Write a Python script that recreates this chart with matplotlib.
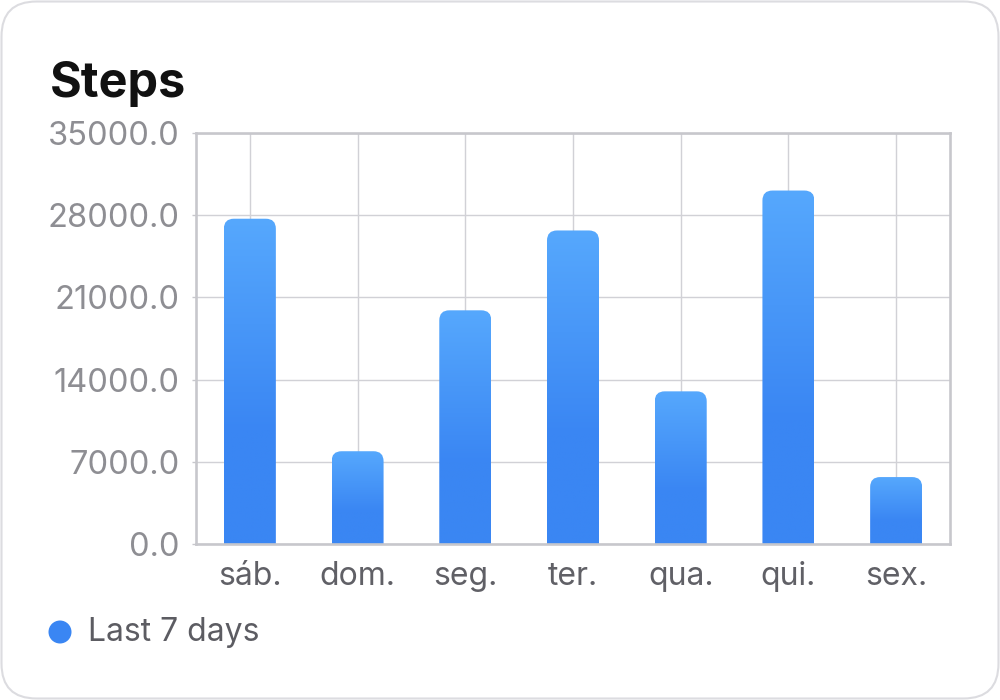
import numpy as np
import matplotlib
matplotlib.use("Agg")
import matplotlib.pyplot as plt
from matplotlib.patches import FancyBboxPatch, Ellipse

categories = ["sáb.", "dom.", "seg.", "ter.", "qua.", "qui.", "sex."]
values = [27700, 7900, 19900, 26700, 13000, 30100, 5700]
yticks = [0, 7000, 14000, 21000, 28000, 35000]
ytick_labels = ["0.0", "7000.0", "14000.0", "21000.0", "28000.0", "35000.0"]
title = "Steps"
series_name = "Last 7 days"

plt.rcParams['font.family'] = ['Inter', 'DejaVu Sans']

W, H = 1000, 700
fig = plt.figure(figsize=(W / 100, H / 100), dpi=100)
fig.patch.set_facecolor("white")

# card
card = FancyBboxPatch((1.5 / W, 1.5 / H), (W - 3) / W, (H - 3) / H,
                      boxstyle="round,pad=0,rounding_size=0.035",
                      mutation_aspect=W / H,
                      transform=fig.transFigure, facecolor="white",
                      edgecolor="#dcdce0", linewidth=1.5, zorder=-5)
fig.patches.append(card)

ax_l, ax_r, ax_t, ax_b = 196, 950, 133, 544
ax = fig.add_axes([ax_l / W, 1 - ax_b / H, (ax_r - ax_l) / W, (ax_b - ax_t) / H])
ax.set_facecolor("none")
ax.set_zorder(2)

n = len(categories)
ax.set_xlim(-0.5, n - 0.5)
ax.set_ylim(0, 35000)

grid_c = "#d1d1d6"
spine_c = "#c7c7cc"
ax.set_yticks(yticks)
ax.set_yticklabels(ytick_labels)
ax.set_xticks(range(n))
ax.set_xticklabels(categories)
ax.grid(True, color=grid_c, linewidth=1.0, zorder=0)
ax.set_axisbelow(True)
for s in ax.spines.values():
    s.set_color(spine_c)
    s.set_linewidth(1.9)
ax.tick_params(axis="y", length=3, width=1, color=spine_c, labelcolor="#8e8e93",
               labelsize=23.5, pad=9)
ax.tick_params(axis="x", length=0, labelcolor="#606066", labelsize=23, pad=12)

# gradient bars
light = np.array([0x56, 0xa8, 0xfd]) / 255
dark = np.array([0x3a, 0x86, 0xf3]) / 255
t = np.linspace(0, 1, 256)
f = np.clip((t - 0.35) / 0.65, 0, 1)
grad = (dark[None, :] * (1 - f[:, None]) + light[None, :] * f[:, None])
grad_img = grad[:, None, :]  # row 0 = bottom

px_per_x = (ax_r - ax_l) / n
px_per_y = (ax_b - ax_t) / 35000
bw = 52 / px_per_x
r = 10 / px_per_x
aspect = px_per_x / px_per_y
ext = 2000
for i, v in enumerate(values):
    x0 = i - bw / 2
    patch = FancyBboxPatch((x0, -ext), bw, v + ext,
                           boxstyle=f"round,pad=0,rounding_size={r}",
                           mutation_aspect=aspect,
                           facecolor="none", edgecolor="none", zorder=2)
    ax.add_patch(patch)
    im = ax.imshow(grad_img, extent=[x0, x0 + bw, 0, v], origin="lower",
                   aspect="auto", zorder=2, interpolation="bilinear")
    im.set_clip_path(patch)
ax.set_xlim(-0.5, n - 0.5)
ax.set_ylim(0, 35000)

fig.text(50 / W, 1 - 97 / H, title, fontsize=35, fontweight="bold",
         color="#111111", va="baseline", ha="left")

# legend
fig.patches.append(Ellipse((60 / W, 1 - 632 / H), 23 / W, 23 / H,
                           transform=fig.transFigure,
                           facecolor="#3a86f3", edgecolor="none"))
fig.text(88 / W, 1 - 633 / H, series_name, fontsize=23, color="#5c5c62",
         va="center", ha="left")

fig.savefig("out.png", dpi=100)
